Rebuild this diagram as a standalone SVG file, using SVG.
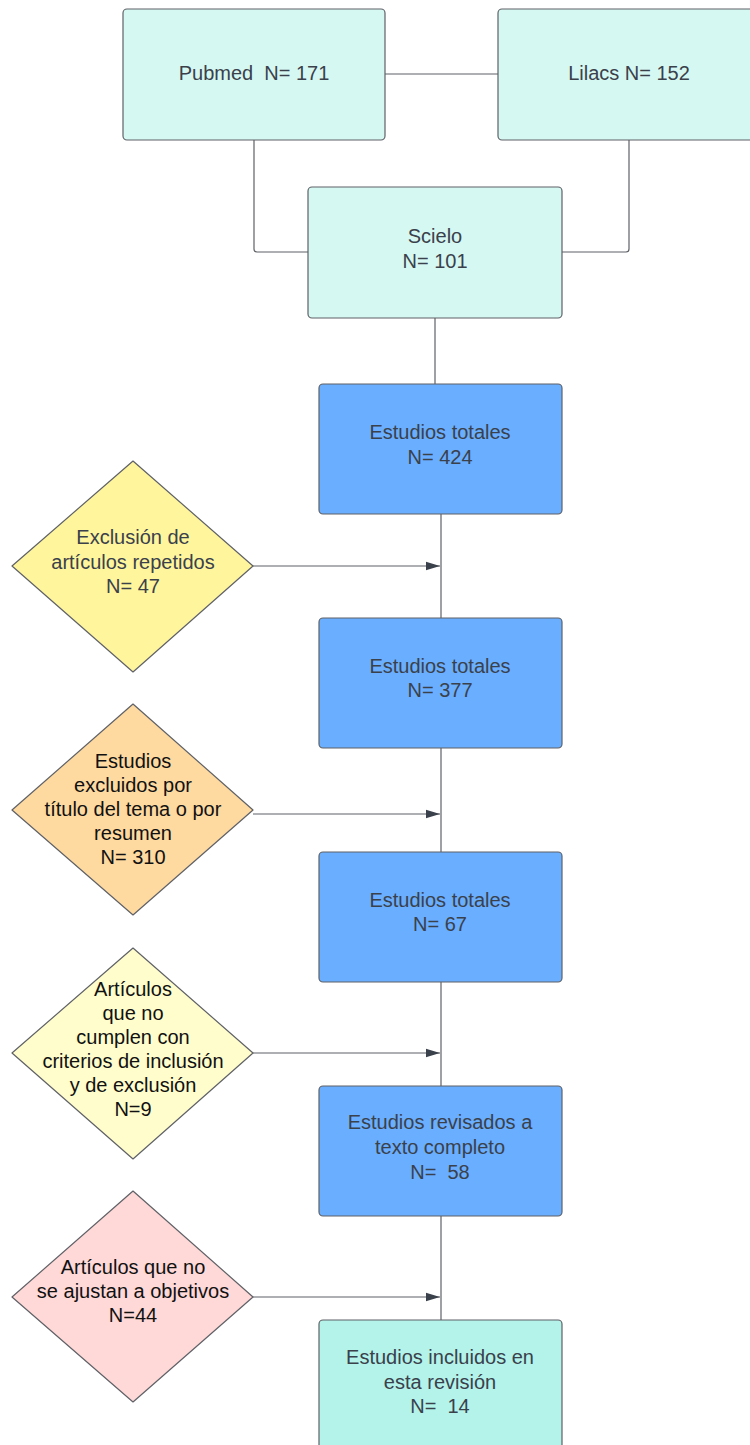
<svg xmlns="http://www.w3.org/2000/svg" width="750" height="1445" viewBox="0 0 750 1445">
<style>
.box{stroke:#5f6166;stroke-width:1.2}
.src{fill:#d6f8f2}
.blue{fill:#6aaeff}
.final{fill:#b3f3ea}
.dia{stroke:#5f6166;stroke-width:1.2;stroke-linejoin:round}
.t{font-family:"Liberation Sans",Arial,sans-serif;font-size:20px;fill:#3a414b;text-anchor:middle;dominant-baseline:central;white-space:pre}
.k{fill:#111111}
.ln{fill:none;stroke:#5f6166;stroke-width:1.2;stroke-linejoin:round}
</style>
<defs>
<marker id="arr" viewBox="0 0 14 10" refX="14" refY="5" markerWidth="14" markerHeight="10" markerUnits="userSpaceOnUse" orient="auto">
<path d="M0,0.8 L14,5 L0,9.2 Z" fill="#3a414b"/>
</marker>
</defs>
<rect width="750" height="1445" fill="#ffffff"/>
<g id="connectors">
<path class="ln" d="M385,74 H498"/>
<path class="ln" d="M254,140 V249 Q254,252 257,252 H308"/>
<path class="ln" d="M629,140 V249 Q629,252 626,252 H562"/>
<path class="ln" d="M435,318 V384"/>
<path class="ln" d="M441,514 V618"/>
<path class="ln" d="M441,748 V852"/>
<path class="ln" d="M441,982 V1086"/>
<path class="ln" d="M441,1216 V1320"/>
<path class="ln" d="M253,566 H440" marker-end="url(#arr)"/>
<path class="ln" d="M253,814 H440" marker-end="url(#arr)"/>
<path class="ln" d="M253,1053 H440" marker-end="url(#arr)"/>
<path class="ln" d="M253,1297 H440" marker-end="url(#arr)"/>
</g>
<g id="pubmed">
<rect class="box src" x="123" y="9" width="262" height="131" rx="4"/>
<text class="t" x="254" y="73">Pubmed  N= 171</text>
</g>
<g id="lilacs">
<rect class="box src" x="498" y="9" width="262" height="131" rx="4"/>
<text class="t" x="629" y="73">Lilacs N= 152</text>
</g>
<g id="scielo">
<rect class="box src" x="308" y="187" width="254" height="131" rx="4"/>
<text class="t" x="435" y="236">Scielo</text>
<text class="t" x="435" y="261">N= 101</text>
</g>
<g id="total1">
<rect class="box blue" x="319" y="384" width="243" height="130" rx="4"/>
<text class="t" x="440" y="432">Estudios totales</text>
<text class="t" x="440" y="457">N= 424</text>
</g>
<g id="excl1">
<polygon class="dia" fill="#fff59d" points="133,461 253,566 133,672 12,566"/>
<text class="t" x="133" y="537">Exclusión de</text>
<text class="t" x="133" y="562">artículos repetidos</text>
<text class="t" x="133" y="586">N= 47</text>
</g>
<g id="total2">
<rect class="box blue" x="319" y="618" width="243" height="130" rx="4"/>
<text class="t" x="440" y="666">Estudios totales</text>
<text class="t" x="440" y="690">N= 377</text>
</g>
<g id="excl2">
<polygon class="dia" fill="#fed9a0" points="133,704 253,810 133,915 12,810"/>
<text class="t k" x="133" y="761">Estudios</text>
<text class="t k" x="133" y="785">excluidos por</text>
<text class="t k" x="133" y="809">título del tema o por</text>
<text class="t k" x="133" y="833">resumen</text>
<text class="t k" x="133" y="857">N= 310</text>
</g>
<g id="total3">
<rect class="box blue" x="319" y="852" width="243" height="130" rx="4"/>
<text class="t" x="440" y="900">Estudios totales</text>
<text class="t" x="440" y="924">N= 67</text>
</g>
<g id="excl3">
<polygon class="dia" fill="#fffdcc" points="133,948 253,1053 133,1159 12,1053"/>
<text class="t k" x="133" y="989">Artículos</text>
<text class="t k" x="133" y="1013">que no</text>
<text class="t k" x="133" y="1037">cumplen con</text>
<text class="t k" x="133" y="1061">criterios de inclusión</text>
<text class="t k" x="133" y="1085">y de exclusión</text>
<text class="t k" x="133" y="1109">N=9</text>
</g>
<g id="revisados">
<rect class="box blue" x="319" y="1086" width="243" height="130" rx="4"/>
<text class="t" x="440" y="1122">Estudios revisados a</text>
<text class="t" x="440" y="1147">texto completo</text>
<text class="t" x="440" y="1172">N=  58</text>
</g>
<g id="excl4">
<polygon class="dia" fill="#ffd8d8" points="133,1191 253,1297 133,1402 12,1297"/>
<text class="t k" x="133" y="1267">Artículos que no</text>
<text class="t k" x="133" y="1291">se ajustan a objetivos</text>
<text class="t k" x="133" y="1315">N=44</text>
</g>
<g id="incluidos">
<rect class="box final" x="319" y="1320" width="243" height="140" rx="4"/>
<text class="t" x="440" y="1357">Estudios incluidos en</text>
<text class="t" x="440" y="1382">esta revisión</text>
<text class="t" x="440" y="1406">N=  14</text>
</g>
</svg>
